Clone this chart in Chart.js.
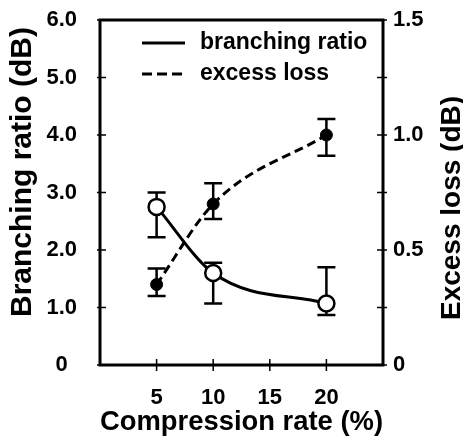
<!DOCTYPE html>
<html>
<head>
<meta charset="utf-8">
<script src="https://cdn.jsdelivr.net/npm/chart.js@4.4.1/dist/chart.umd.min.js"></script>
<style>
  html, body { margin: 0; padding: 0; background: #fff; }
</style>
</head>
<body>
<canvas id="graph-1" width="463" height="441"></canvas>
<script>
// valores
const compression = [5, 10, 20];
const branchingRatio = [2.75, 1.6, 1.07];
const branchingHigh = [3.0, 1.78, 1.7];
const branchingLow = [2.22, 1.07, 0.87];
const excessLoss = [0.35, 0.70, 1.0];
const excessHigh = [0.42, 0.79, 1.07];
const excessLow = [0.30, 0.635, 0.91];
const xTickLabels = ['5', '10', '15', '20'];
const leftTickLabels = ['0', '1.0', '2.0', '3.0', '4.0', '5.0', '6.0'];
const rightTickLabels = ['0', '0.5', '1.0', '1.5'];

const FONT = "'Liberation Sans', Arial, Helvetica, sans-serif";
const toPoints = (ys) => ys.map((y, i) => ({ x: compression[i], y: y }));

// barras de error
const errorBars = {
  id: 'errorBars',
  beforeDatasetsDraw(chart) {
    const ctx = chart.ctx;
    chart.data.datasets.forEach((ds, d) => {
      const meta = chart.getDatasetMeta(d);
      const xs = meta.xScale, ys = meta.yScale;
      ctx.save();
      ctx.strokeStyle = '#000';
      ctx.lineWidth = 2.5;
      compression.forEach((c, i) => {
        const x = xs.getPixelForValue(c);
        const y1 = ys.getPixelForValue(ds.errHigh[i]);
        const y2 = ys.getPixelForValue(ds.errLow[i]);
        ctx.beginPath();
        ctx.moveTo(x, y1); ctx.lineTo(x, y2);
        ctx.moveTo(x - 9, y1); ctx.lineTo(x + 9, y1);
        ctx.moveTo(x - 9, y2); ctx.lineTo(x + 9, y2);
        ctx.stroke();
      });
      ctx.restore();
    });
  }
};

// marco y marcas de los ejes
const frame = {
  id: 'frame',
  beforeDatasetsDraw(chart) {
    const { ctx, chartArea: a, scales } = chart;
    ctx.save();
    ctx.strokeStyle = '#000';
    ctx.lineWidth = 3;
    ctx.strokeRect(a.left, a.top, a.right - a.left, a.bottom - a.top);
    ctx.lineWidth = 1.5;
    ctx.beginPath();
    scales.x.ticks.forEach(t => {
      if (t.value <= 0 || t.value >= 25) return;
      const x = scales.x.getPixelForValue(t.value);
      ctx.moveTo(x, a.bottom - 6); ctx.lineTo(x, a.bottom + 6);
    });
    scales.y.ticks.forEach(t => {
      const y = scales.y.getPixelForValue(t.value);
      ctx.moveTo(a.left - 3, y); ctx.lineTo(a.left + 6, y);
    });
    scales.y2.ticks.forEach(t => {
      const y = scales.y2.getPixelForValue(t.value);
      ctx.moveTo(a.right - 6, y); ctx.lineTo(a.right + 4, y);
    });
    ctx.stroke();
    ctx.restore();
  }
};

// titulos verticales (los dos leen de abajo hacia arriba)
const sideTitles = {
  id: 'sideTitles',
  afterDraw(chart) {
    const ctx = chart.ctx;
    const items = [
      { text: 'Branching ratio (dB)', x: 23, y: 172, size: 30 },
      { text: 'Excess loss (dB)', x: 452, y: 208, size: 28 }
    ];
    ctx.save();
    ctx.fillStyle = '#000';
    ctx.textAlign = 'center';
    ctx.textBaseline = 'middle';
    items.forEach(it => {
      ctx.save();
      ctx.translate(it.x, it.y);
      ctx.rotate(-Math.PI / 2);
      ctx.font = 'bold ' + it.size + 'px ' + FONT;
      ctx.fillText(it.text, 0, 0);
      ctx.restore();
    });
    ctx.restore();
  }
};

// leyenda dentro del area
const insideLegend = {
  id: 'insideLegend',
  afterDraw(chart) {
    const { ctx, chartArea: a } = chart;
    ctx.save();
    ctx.strokeStyle = '#000';
    ctx.fillStyle = '#000';
    ctx.lineWidth = 3;
    ctx.font = 'bold 23px ' + FONT;
    ctx.textBaseline = 'middle';
    chart.data.datasets.forEach((ds, i) => {
      const y = a.top + 23 + i * 31;
      ctx.setLineDash(i === 0 ? [] : [10, 5]);
      ctx.beginPath();
      ctx.moveTo(a.left + 42, y); ctx.lineTo(a.left + 85, y);
      ctx.stroke();
      ctx.fillText(ds.label, a.left + 100, y);
    });
    ctx.restore();
  }
};

const data = {
  datasets: [
    {
      label: 'branching ratio',
      data: toPoints(branchingRatio),
      errHigh: branchingHigh,
      errLow: branchingLow,
      yAxisID: 'y',
      borderColor: '#000',
      borderWidth: 3,
      cubicInterpolationMode: 'monotone',
      pointRadius: 8,
      pointBorderWidth: 2.5,
      pointBackgroundColor: '#fff',
      pointBorderColor: '#000'
    },
    {
      label: 'excess loss',
      data: toPoints(excessLoss),
      errHigh: excessHigh,
      errLow: excessLow,
      yAxisID: 'y2',
      borderColor: '#000',
      borderWidth: 3,
      borderDash: [9, 5],
      cubicInterpolationMode: 'monotone',
      pointRadius: 6,
      pointBorderWidth: 1,
      pointBackgroundColor: '#000',
      pointBorderColor: '#000'
    }
  ]
};

const noPad = s => { s.paddingTop = 0; s.paddingBottom = 0; };

const config = {
  type: 'line',
  data: data,
  options: {
    responsive: false,
    animation: false,
    layout: { padding: { top: 20, left: 0, right: 0, bottom: 0 } },
    plugins: {
      legend: { display: false },
      tooltip: { enabled: false }
    },
    scales: {
      x: {
        type: 'linear',
        min: 0,
        max: 25,
        grid: { display: false, drawTicks: false },
        border: { display: false },
        afterFit: s => { s.height = 76; s.paddingLeft = 0; s.paddingRight = 0; },
        ticks: {
          stepSize: 5,
          padding: 20,
          color: '#000',
          font: { family: FONT, size: 22, weight: 'bold' },
          callback: v => xTickLabels[v / 5 - 1] || ''
        },
        title: {
          display: true,
          text: 'Compression rate (%)',
          color: '#000',
          padding: { top: 0, bottom: 5 },
          font: { family: FONT, size: 27.5, weight: 'bold', lineHeight: 1 }
        }
      },
      y: {
        position: 'left',
        min: 0,
        max: 6,
        grid: { display: false, drawTicks: false },
        border: { display: false },
        afterFit: s => { s.width = 100; noPad(s); },
        ticks: {
          stepSize: 1,
          padding: 23,
          crossAlign: 'center',
          color: '#000',
          font: { family: FONT, size: 22, weight: 'bold' },
          callback: v => leftTickLabels[v]
        }
      },
      y2: {
        position: 'right',
        min: 0,
        max: 1.5,
        grid: { display: false, drawTicks: false },
        border: { display: false },
        afterFit: s => { s.width = 80; noPad(s); },
        ticks: {
          stepSize: 0.25,
          padding: 10,
          color: '#000',
          font: { family: FONT, size: 22, weight: 'bold' },
          callback: v => {
            const k = Math.round(v * 2);
            return Math.abs(v * 2 - k) < 1e-6 ? rightTickLabels[k] : '';
          }
        }
      }
    }
  },
  plugins: [frame, errorBars, sideTitles, insideLegend]
};

const chart = new Chart(document.querySelector('#graph-1'), config);
</script>
</body>
</html>
